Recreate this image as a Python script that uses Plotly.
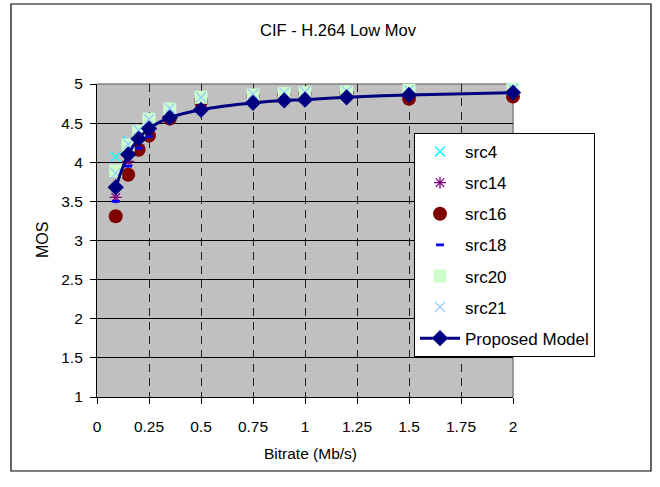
import plotly.graph_objects as go

bitrate = [0.09, 0.15, 0.2, 0.25, 0.35, 0.5, 0.75, 0.9, 1.0, 1.2, 1.5, 2.0]
src4 = [4.07, 4.27, 4.42, 4.55, 4.69, 4.83, 4.87, 4.89, 4.90, 4.91, 4.92, 4.94]
src14 = [3.55, 4.01, 4.22, 4.38, 4.55, 4.72, 4.80, 4.83, 4.84, 4.86, 4.84, 4.86]
src16 = [3.31, 3.84, 4.16, 4.34, 4.56, 4.78, 4.84, 4.86, 4.87, 4.88, 4.81, 4.84]
src18 = [3.50, 3.95, 4.18, 4.33, 4.57, 4.72, 4.80, 4.84, 4.85, 4.86, 4.86, 4.88]
src20 = [3.89, 4.22, 4.39, 4.55, 4.68, 4.83, 4.86, 4.88, 4.89, 4.90, 4.92, 4.94]
src21 = [3.86, 4.23, 4.41, 4.55, 4.69, 4.83, 4.87, 4.89, 4.90, 4.91, 4.92, 4.94]
model = [3.68, 4.10, 4.30, 4.43, 4.57, 4.67, 4.76, 4.79, 4.80, 4.83, 4.86, 4.89]

x_ticks = [0, 0.25, 0.5, 0.75, 1, 1.25, 1.5, 1.75, 2]
x_tick_text = ["0", "0.25", "0.5", "0.75", "1", "1.25", "1.5", "1.75", "2"]
y_ticks = [1, 1.5, 2, 2.5, 3, 3.5, 4, 4.5, 5]
y_tick_text = ["1", "1.5", "2", "2.5", "3", "3.5", "4", "4.5", "5"]

FONT = "Liberation Sans, Arial, sans-serif"

fig = go.Figure()

def pts(name, y, symbol, color, size, lw=1.0, fill=None):
    fig.add_trace(go.Scatter(
        x=bitrate, y=y, name=name, mode="markers", legendgroup=name,
        cliponaxis=False,
        marker=dict(symbol=symbol, color=fill if fill else color, size=size,
                    line=dict(color=color, width=lw)),
    ))

pts("src4", src4, "x-thin-open", "#00FFFF", 10, 1.3)
pts("src14", src14, "asterisk-open", "#800080", 10, 1.3)
pts("src16", src16, "circle", "#800000", 14, 0)
pts("src18", src18, "line-ew-open", "#0000FF", 5.5, 2.8)
pts("src20", src20, "square", "#CCFFCC", 13, 0)
pts("src21", src21, "x-thin-open", "#99CCFF", 10, 1.3)

fig.add_trace(go.Scatter(
    x=bitrate, y=model, name="Proposed Model", mode="lines+markers",
    legendgroup="model", cliponaxis=False,
    line=dict(color="#000080", width=3, shape="spline", smoothing=0.8),
    marker=dict(symbol="diamond", color="#000080", size=12.5, line=dict(width=0)),
))

# plot area: x 97..513, y 84..397
L, R, T, B = 97, 513, 84, 397
W, H = 660, 487
pw, ph = R - L, B - T

def px(xp):
    return (xp - L) / pw

def py(yp):
    return (B - yp) / ph

# outer chart frame
fig.add_shape(type="rect", xref="paper", yref="paper",
              x0=px(11), x1=px(651), y0=py(471), y1=py(4),
              line=dict(color="black", width=1.2), fillcolor="rgba(0,0,0,0)",
              layer="below")

# top and right plot border (gray)
fig.add_shape(type="line", xref="paper", yref="paper", x0=0, x1=1, y0=1, y1=1,
              line=dict(color="#808080", width=1.5), layer="below")
fig.add_shape(type="line", xref="paper", yref="paper", x0=1, x1=1, y0=0, y1=1,
              line=dict(color="#808080", width=1.5), layer="below")

# axis titles placed as annotations for exact positioning
fig.add_annotation(text="Bitrate (Mb/s)", xref="paper", yref="paper",
                   x=px(310), y=py(453), xanchor="center", yanchor="middle",
                   showarrow=False, font=dict(size=15.5))
fig.add_annotation(text="MOS", xref="paper", yref="paper",
                   x=px(42), y=py(240), xanchor="center", yanchor="middle",
                   textangle=-90, showarrow=False, font=dict(size=16))

fig.update_layout(
    width=W, height=H,
    margin=dict(l=L, r=W - R, t=T, b=H - B, pad=0),
    paper_bgcolor="white", plot_bgcolor="#C0C0C0",
    font=dict(family=FONT, size=15, color="black"),
    title=dict(text="CIF - H.264 Low Mov", x=338 / W, xanchor="center",
               y=1 - 30 / H, yanchor="middle", font=dict(size=16.5)),
    showlegend=True,
    legend=dict(x=px(414), y=py(133), xanchor="left", yanchor="top",
                bgcolor="white", bordercolor="black", borderwidth=1,
                font=dict(size=17), tracegroupgap=6, itemwidth=40,
                itemsizing="trace"),
    xaxis=dict(range=[0, 2], tickvals=x_ticks, ticktext=x_tick_text,
               showgrid=True, gridcolor="#202020", griddash="8px,6px", gridwidth=1.2,
               zeroline=False, showline=True, linecolor="black", linewidth=1.2,
               ticks="outside", ticklen=6, tickcolor="black",
               tickfont=dict(size=15.5), ticklabelstandoff=9,
               fixedrange=True),
    yaxis=dict(range=[1, 5], tickvals=y_ticks, ticktext=y_tick_text,
               showgrid=True, gridcolor="black", gridwidth=1.2,
               zeroline=False, showline=True, linecolor="black", linewidth=1.2,
               ticks="outside", ticklen=6, tickcolor="black",
               tickfont=dict(size=15.5), ticklabelstandoff=4,
               fixedrange=True),
)

fig.write_html("out.html")
